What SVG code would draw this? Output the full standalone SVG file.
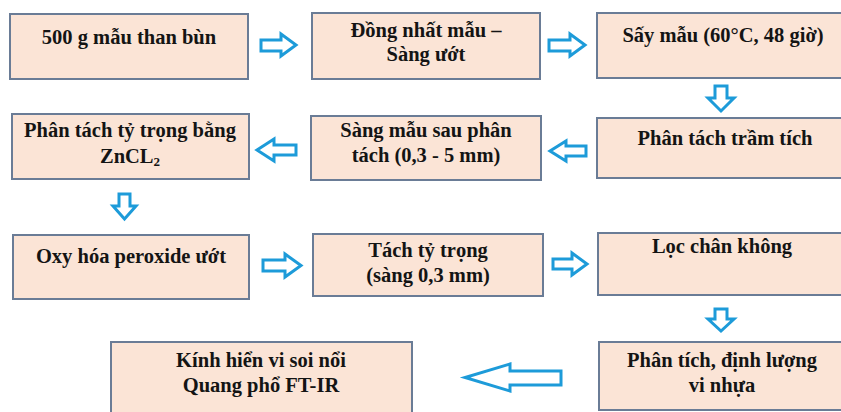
<svg xmlns="http://www.w3.org/2000/svg" width="841" height="412" viewBox="0 0 841 412">
<style>
.box{fill:#fbe4d6;stroke:#6a7c96;stroke-width:2}
.t{font-family:"Liberation Serif","Times New Roman",serif;font-weight:bold;font-size:20.5px;fill:#141414;text-anchor:middle}
.arr{fill:#ffffff;stroke:#1d9bd9;stroke-width:3;stroke-linejoin:miter}
</style>
<rect width="841" height="412" fill="#ffffff"/>
<g id="n1"><rect class="box" x="10" y="14" width="238" height="65"/><text class="t" x="129" y="44">500 g mẫu than bùn</text></g>
<g id="n2"><rect class="box" x="312" y="13" width="228" height="66"/><text class="t" x="426" y="37">Đồng nhất mẫu –</text><text class="t" x="426" y="61">Sàng ướt</text></g>
<g id="n3"><rect class="box" x="597" y="13" width="252" height="65"/><text class="t" x="723" y="42">Sấy mẫu (60°C, 48 giờ)</text></g>
<g id="n4"><rect class="box" x="12" y="114" width="237" height="65"/><text class="t" x="130" y="137">Phân tách tỷ trọng bằng</text><text class="t" x="130" y="163">ZnCL<tspan font-size="13" dy="3">2</tspan></text></g>
<g id="n5"><rect class="box" x="311" y="116" width="230" height="64"/><text class="t" x="426" y="137">Sàng mẫu sau phân</text><text class="t" x="426" y="162">tách (0,3 - 5 mm)</text></g>
<g id="n6"><rect class="box" x="597" y="118" width="252" height="60"/><text class="t" x="725" y="145">Phân tách trầm tích</text></g>
<g id="n7"><rect class="box" x="13" y="235" width="236" height="64"/><text class="t" x="131" y="263">Oxy hóa peroxide ướt</text></g>
<g id="n8"><rect class="box" x="313" y="234" width="230" height="62"/><text class="t" x="428" y="257">Tách tỷ trọng</text><text class="t" x="428" y="282">(sàng 0,3 mm)</text></g>
<g id="n9"><rect class="box" x="598" y="233" width="251" height="62"/><text class="t" x="722" y="253">Lọc chân không</text></g>
<g id="n10"><rect class="box" x="111" y="342" width="301" height="80"/><text class="t" x="261" y="367">Kính hiển vi soi nổi</text><text class="t" x="261" y="392">Quang phổ FT-IR</text></g>
<g id="n11"><rect class="box" x="599" y="342" width="250" height="68"/><text class="t" x="722" y="367">Phân tích, định lượng</text><text class="t" x="722" y="392">vi nhựa</text></g>
<g id="connectors">
<path class="arr" d="M261,40 H281 V34 L296,45 L281,56 V51 H261 Z"/>
<path class="arr" d="M549,40 H570 V34 L585,45 L570,56 V51 H549 Z"/>
<path class="arr" d="M715,86 V98 H708 L721,111 L734,98 H727 V86 Z"/>
<path class="arr" d="M586,146 H566 V141 L550,151 L566,161 V156 H586 Z"/>
<path class="arr" d="M296,145 H274 V139 L257,150 L274,161 V155 H296 Z"/>
<path class="arr" d="M119,194 V206 H113 L124.5,219 L136,206 H130 V194 Z"/>
<path class="arr" d="M263,260 H285 V254 L301,265.5 L285,277 V271 H263 Z"/>
<path class="arr" d="M553,259 H572 V253 L587,264 L572,275 V269 H553 Z"/>
<path class="arr" d="M715,309 V319 H708 L721,331 L734,319 H727 V309 Z"/>
<path class="arr" d="M561,371 H510 V364 L465,377.5 L510,391 V385 H561 Z"/>
</g>
</svg>
